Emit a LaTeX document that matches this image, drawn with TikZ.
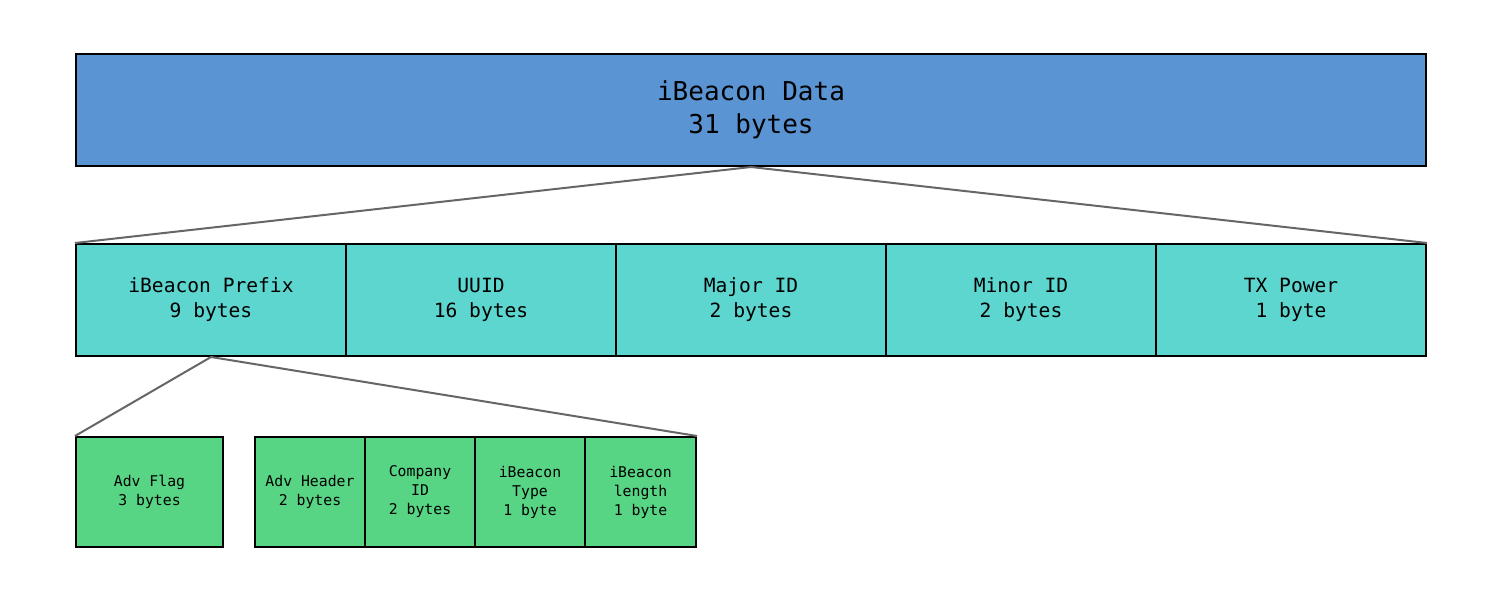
\documentclass[tikz,border=0pt]{standalone}
\usepackage{fontspec}
\setmainfont{DejaVu Sans Mono}
\definecolor{topblue}{HTML}{5A94D3}
\definecolor{midteal}{HTML}{5CD6CF}
\definecolor{lowgreen}{HTML}{58D584}
\definecolor{linkgray}{HTML}{666666}
\begin{document}
\begin{tikzpicture}[x=1pt,y=-1pt,
  cell/.style={draw=black,line width=2pt,inner sep=0pt,align=center,anchor=north west},
  topcell/.style={cell,fill=topblue,minimum width=1350pt,minimum height=112pt,font=\fontsize{26}{33}\selectfont},
  midcell/.style={cell,fill=midteal,minimum width=270pt,minimum height=112pt,font=\fontsize{19.6}{25}\selectfont},
  lowcell/.style={cell,fill=lowgreen,minimum height=110pt,font=\fontsize{14.8}{19}\selectfont},
  link/.style={draw=linkgray,line width=2pt}]
\useasboundingbox (0,0) rectangle (1500,600);
\fill[white] (0,0) rectangle (1500,600);
\node[topcell] (top) at (75,53) {iBeacon Data\\31 bytes};
\node[midcell] (p1) at (75,243) {iBeacon Prefix\\9 bytes};
\node[midcell] (p2) at (345,243) {UUID\\16 bytes};
\node[midcell] (p3) at (615,243) {Major ID\\2 bytes};
\node[midcell] (p4) at (885,243) {Minor ID\\2 bytes};
\node[midcell] (p5) at (1155,243) {TX Power\\1 byte};
\node[lowcell,minimum width=147pt] (b1) at (75,436) {Adv Flag\\3 bytes};
\node[lowcell,minimum width=110pt] (b2) at (254,436) {Adv Header\\2 bytes};
\node[lowcell,minimum width=110pt] (b3) at (364,436) {Company\\ID\\2 bytes};
\node[lowcell,minimum width=110pt] (b4) at (474,436) {iBeacon\\Type\\1 byte};
\node[lowcell,minimum width=111pt] (b5) at (584,436) {iBeacon\\length\\1 byte};
\draw[link] (top.south) -- (p1.north west);
\draw[link] (top.south) -- (p5.north east);
\draw[link] (p1.south) -- (b1.north west);
\draw[link] (p1.south) -- (b5.north east);
\end{tikzpicture}
\end{document}
